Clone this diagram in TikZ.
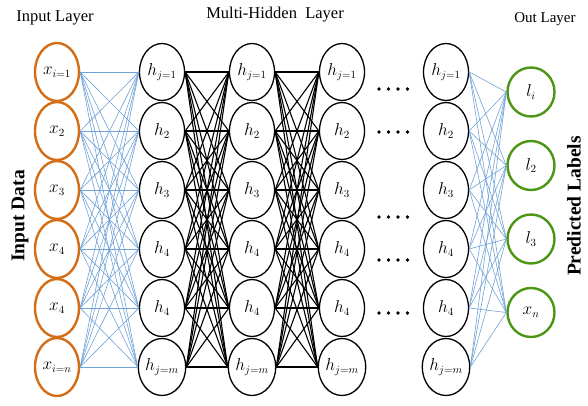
\documentclass[tikz,border=0pt]{standalone}
\usepackage{fontspec}
\setmainfont{Liberation Serif}
\usetikzlibrary{shapes.geometric}
\definecolor{inorange}{RGB}{212,110,22}
\definecolor{outgreen}{RGB}{76,150,22}
\definecolor{linkblue}{RGB}{112,162,215}
\begin{document}
\begin{tikzpicture}[x=1pt,y=-1pt,
neuron/.style={%
ellipse,
draw,
fill=white,
inner sep=0pt,
line width=1.3pt,
minimum width=45pt,
minimum height=57pt,
font=\fontsize{16}{16}\selectfont
},
inneuron/.style={%
neuron,
draw=inorange,
line width=2.4pt,
minimum width=44pt,
minimum height=58pt
},
outneuron/.style={%
neuron,
draw=outgreen,
line width=2.4pt,
minimum width=47pt,
minimum height=49pt
},
bluelink/.style={%
draw=linkblue,
line width=0.6pt
},
blacklink/.style={%
draw=black,
line width=1.1pt
},
title/.style={%
font=\fontsize{16.5}{16.5}\selectfont
},
side/.style={%
font=\fontsize{19.5}{19.5}\selectfont\bfseries,
rotate=90
},
]
\useasboundingbox (0,0) rectangle (588,405);
%% Titles
\node[title] (tin) at (55,18) {Input Layer};
\node[title] (thid) at (275,15) {Multi-Hidden\ \ Layer};
\node[title,font=\fontsize{15}{15}\selectfont] (tout) at (545,19) {Out Layer};
\node[side] (sin) at (20,216) {Input Data};
\node[side] (sout) at (574,206) {Predicted Labels};
%% Input layer
\foreach \lab [count=\i] in {x_{i=1},x_2,x_3,x_4,x_4,x_{i=n}}{%
\node[inneuron] (in\i) at (57,13+59*\i) {$\lab$};
}
%% Hidden layers
\foreach \col/\x in {a/162,b/252,c/342,d/446}{%
\foreach \lab [count=\i] in {h_{j=1},h_2,h_3,h_4,h_4,h_{j=m}}{%
\node[neuron] (h\col\i) at (\x,13+59*\i) {$\lab$};
}
}
%% Output layer
\foreach \lab [count=\i] in {l_i,l_2,l_3,x_n}{%
\node[outneuron] (out\i) at (531,18.5+73.5*\i) {$\lab$};
}
%% Dots
\foreach \y in {89,132,217,260,313}{%
\foreach \x in {379,388.5,398,407.5}{%
\fill (\x,\y) circle (1.8pt);
}
}
%% Links
\foreach \i in {1,...,6}{%
\foreach \j in {1,...,6}{%
\draw[bluelink] (in\i.east) -- (ha\j.west);
\draw[blacklink] (ha\i.east) -- (hb\j.west);
\draw[blacklink] (hb\i.east) -- (hc\j.west);
}
\foreach \j in {1,...,4}{%
\draw[bluelink] (hd\i.east) -- (out\j.west);
}
}
\end{tikzpicture}
\end{document}
